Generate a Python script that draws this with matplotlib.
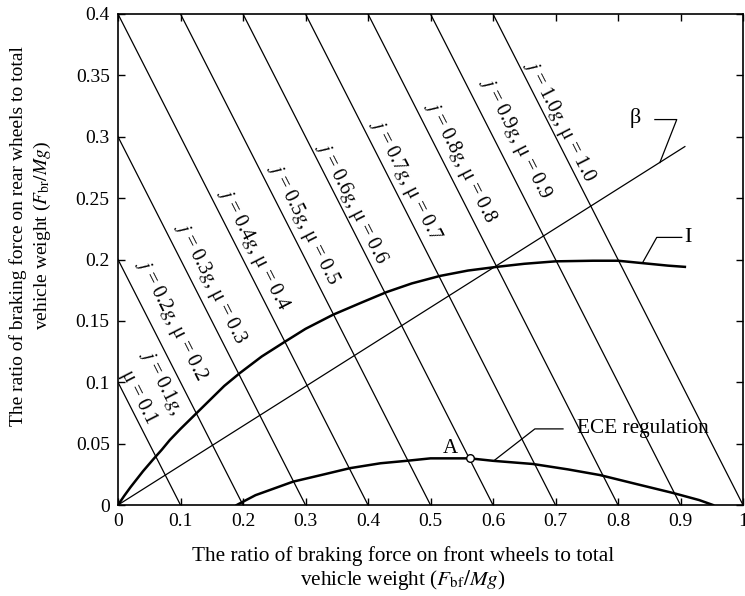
import matplotlib.pyplot as plt

plt.rcParams['font.family'] = ['Liberation Serif', 'DejaVu Serif']
plt.rcParams['mathtext.fontset'] = 'stix'

# j = deceleration (g), equal to mu at full adhesion
j_values = [0.1, 0.2, 0.3, 0.4, 0.5, 0.6, 0.7, 0.8, 0.9, 1.0]

# I curve (ideal braking force distribution)
i_x = [0, 0.01, 0.02, 0.03, 0.04, 0.056, 0.07, 0.083, 0.10, 0.126, 0.147,
       0.17, 0.195, 0.23, 0.267, 0.30, 0.344, 0.39, 0.43, 0.47, 0.515,
       0.56, 0.606, 0.65, 0.70, 0.76, 0.80, 0.84, 0.88, 0.907]
i_y = [0, 0.0075, 0.0145, 0.021, 0.0275, 0.037, 0.045, 0.053, 0.062, 0.075,
       0.0855, 0.097, 0.1075, 0.121, 0.133, 0.1435, 0.155, 0.165, 0.1735,
       0.1805, 0.1866, 0.191, 0.194, 0.1965, 0.1985, 0.199, 0.199, 0.197,
       0.195, 0.194]

# beta line (installed distribution)
beta_x = [0, 0.907]
beta_y = [0, 0.292]

# ECE regulation limit curve
ece_x = [0.19, 0.22, 0.28, 0.33, 0.371, 0.42, 0.462, 0.50, 0.563, 0.60,
         0.664, 0.72, 0.771, 0.83, 0.888, 0.93, 0.952]
ece_y = [0, 0.008, 0.019, 0.025, 0.030, 0.034, 0.036, 0.038, 0.038, 0.036,
         0.0334, 0.029, 0.0244, 0.017, 0.0098, 0.004, 0]

point_a = (0.563, 0.038)

x_ticks = [0, 0.1, 0.2, 0.3, 0.4, 0.5, 0.6, 0.7, 0.8, 0.9, 1.0]
x_labels = ['0', '0.1', '0.2', '0.3', '0.4', '0.5', '0.6', '0.7', '0.8', '0.9', '1']
y_ticks = [0, 0.05, 0.1, 0.15, 0.2, 0.25, 0.3, 0.35, 0.4]
y_labels = ['0', '0.05', '0.1', '0.15', '0.2', '0.25', '0.3', '0.35', '0.4']

# label centres for the j lines (pixel positions in the figure)
label_px = {1.0: (560, 121), 0.9: (515, 138), 0.8: (461, 162), 0.7: (406, 180),
            0.6: (352, 203), 0.5: (304, 224), 0.4: (254, 249), 0.3: (211, 283),
            0.2: (171, 320)}

W, H = 745, 596
fig = plt.figure(figsize=(W / 100, H / 100), dpi=100, facecolor='white')
ax = fig.add_axes([118 / W, 91 / H, 625 / W, 491 / H])

for j in j_values:
    ax.plot([0, j], [j, 0], color='black', lw=0.9)

ax.plot(beta_x, beta_y, color='black', lw=0.9)
ax.plot(i_x, i_y, color='black', lw=1.8)
ax.plot(ece_x, ece_y, color='black', lw=1.8)
ax.plot(*point_a, marker='o', ms=5.5, mfc='white', mec='black', mew=1.0, zorder=5)

ax.set_xlim(0, 1)
ax.set_ylim(0, 0.4)
ax.set_xticks(x_ticks)
ax.set_xticklabels(x_labels)
ax.set_yticks(y_ticks)
ax.set_yticklabels(y_labels)
ax.tick_params(direction='in', length=5, width=1, top=True, right=True,
               labelsize=14, pad=6)
for s in ax.spines.values():
    s.set_linewidth(1.2)

rot = -63.0
for j, (px, py) in label_px.items():
    fig.text(px / W, 1 - py / H, rf"$j$ = {j:.1f}$g$, μ = {j:.1f}", fontsize=14.5,
             rotation=rot, rotation_mode='anchor', ha='center', va='center')
fig.text(162 / W, 1 - 382 / H, r"$j$ = 0.1$g$,", fontsize=14.5,
         rotation=rot, rotation_mode='anchor', ha='center', va='center')
fig.text(138 / W, 1 - 397 / H, "μ = 0.1", fontsize=14.5,
         rotation=rot, rotation_mode='anchor', ha='center', va='center')

# beta leader
ax.plot([0.859, 0.894, 0.867], [0.314, 0.314, 0.279], color='black', lw=0.9)
ax.text(0.827, 0.315, "β", fontsize=16, ha='center', va='center')
# I leader
ax.plot([0.902, 0.862, 0.84], [0.218, 0.218, 0.198], color='black', lw=0.9)
ax.text(0.912, 0.218, "I", fontsize=16, ha='center', va='center')
# ECE leader
ax.plot([0.603, 0.667, 0.712], [0.0367, 0.062, 0.062], color='black', lw=0.9)
ax.text(0.734, 0.062, "ECE regulation", fontsize=15.3, ha='left', va='center')
ax.text(0.531, 0.046, "A", fontsize=15, ha='center', va='center')

fig.text(403 / W, 0.045,
         "The ratio of braking force on front wheels to total\n"
         r"vehicle weight ($F_{\mathrm{bf}}/Mg$)",
         fontsize=15.3, ha='center', va='center', linespacing=1.1)
fig.text(0.042, 0.604,
         "The ratio of braking force on rear wheels to total\n"
         r"vehicle weight ($F_{\mathrm{br}}/Mg$)",
         fontsize=14, ha='center', va='center', rotation=90, linespacing=1.35)

fig.savefig("out.png", dpi=100, facecolor='white')
